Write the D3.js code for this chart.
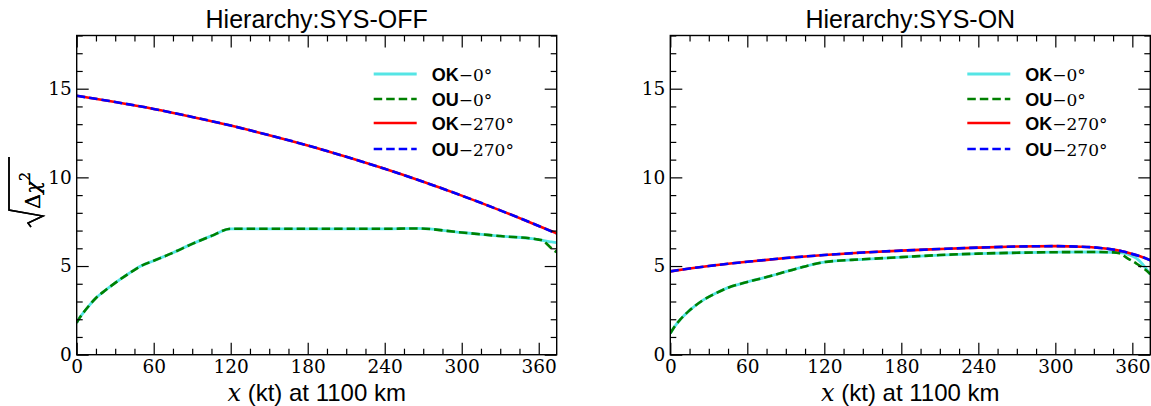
<!DOCTYPE html>
<html>
<head>
<meta charset="utf-8">
<script src="https://cdn.jsdelivr.net/npm/d3@7"></script>
<style>
  body { margin: 0; background: #fff; }
  svg { display: block; }
</style>
</head>
<body>
<div id="chart"></div>
<script>
// ---- data ----
const panelTitles = ['Hierarchy:SYS-OFF', 'Hierarchy:SYS-ON'];
const xMajorTicks = [0, 60, 120, 180, 240, 300, 360];
const yMajorTicks = [0, 5, 10, 15];
const xMax = 374;
const yMax = 18;

// SYS-OFF
const offX270 = [0, 30, 60, 90, 120, 150, 180, 210, 240, 270, 300, 330, 360, 374];
const offOK270 = [14.6, 14.25, 13.86, 13.41, 12.92, 12.38, 11.80, 11.16, 10.48, 9.75, 8.97, 8.14, 7.26, 6.85];
const offOU270 = [14.6, 14.25, 13.86, 13.41, 12.92, 12.38, 11.80, 11.16, 10.48, 9.75, 8.97, 8.14, 7.26, 6.83];
const offXOK0 = [0, 2, 5, 10, 15, 20, 30, 40, 50, 60, 75, 90, 105, 120, 150, 180, 210, 240, 265, 300, 330, 360, 364, 368, 371, 374];
const offOK0 = [1.8, 2.05, 2.35, 2.8, 3.2, 3.5, 4.05, 4.55, 5.0, 5.3, 5.75, 6.25, 6.7, 7.1, 7.1, 7.1, 7.1, 7.1, 7.12, 6.89, 6.69, 6.49, 6.43, 6.38, 6.35, 6.32];
const offXOU0 = [0, 2, 5, 10, 15, 20, 30, 40, 50, 60, 75, 90, 105, 120, 150, 180, 210, 240, 265, 300, 330, 360, 364, 367, 370, 372, 374];
const offOU0 = [1.8, 2.05, 2.35, 2.8, 3.2, 3.5, 4.05, 4.55, 5.0, 5.3, 5.75, 6.25, 6.7, 7.1, 7.1, 7.1, 7.1, 7.1, 7.12, 6.89, 6.69, 6.49, 6.4, 6.2, 6.0, 5.88, 5.78];

// SYS-ON
const onX270 = [0, 15, 30, 45, 60, 90, 120, 150, 180, 210, 240, 270, 300, 320, 335, 345, 352, 358, 366, 374];
const onOK270 = [4.70, 4.86, 5.0, 5.13, 5.24, 5.45, 5.62, 5.76, 5.87, 5.96, 6.04, 6.10, 6.12, 6.09, 6.02, 5.93, 5.83, 5.72, 5.55, 5.33];
const onOU270 = [4.70, 4.86, 5.0, 5.13, 5.24, 5.45, 5.62, 5.76, 5.87, 5.96, 6.04, 6.10, 6.12, 6.09, 6.02, 5.93, 5.83, 5.72, 5.55, 5.33];
const onXOK0 = [0, 3, 7.5, 15, 25, 35, 45, 60, 75, 90, 105, 120, 150, 180, 210, 240, 270, 300, 330, 345, 352, 358, 363, 368, 374];
const onOK0 = [1.2, 1.55, 1.96, 2.5, 3.05, 3.45, 3.78, 4.1, 4.38, 4.68, 4.98, 5.22, 5.38, 5.5, 5.62, 5.7, 5.75, 5.78, 5.79, 5.77, 5.74, 5.62, 5.44, 5.1, 4.52];
const onXOU0 = [0, 3, 7.5, 15, 25, 35, 45, 60, 75, 90, 105, 120, 150, 180, 210, 240, 270, 300, 330, 345, 350, 356, 363, 370, 374];
const onOU0 = [1.2, 1.55, 1.96, 2.5, 3.05, 3.45, 3.78, 4.1, 4.38, 4.68, 4.98, 5.22, 5.38, 5.5, 5.62, 5.7, 5.75, 5.78, 5.79, 5.77, 5.72, 5.45, 5.15, 4.8, 4.55];

const legendNames = [['OK', '\u22120\u00b0'], ['OU', '\u22120\u00b0'], ['OK', '\u2212270\u00b0'], ['OU', '\u2212270\u00b0']];

const zip = (xs, ys) => xs.map((x, i) => [x, ys[i]]);

const panels = [
  { left: 76.7, title: panelTitles[0], series: [zip(offXOK0, offOK0), zip(offXOU0, offOU0), zip(offX270, offOK270), zip(offX270, offOU270)] },
  { left: 670.3, title: panelTitles[1], series: [zip(onXOK0, onOK0), zip(onXOU0, onOU0), zip(onX270, onOK270), zip(onX270, onOU270)] }
];

// style for each series: OK-0, OU-0, OK-270, OU-270
const styles = [
  { color: '#55e5e5', width: 2.8, dash: null },
  { color: '#008000', width: 2.6, dash: '8.5,4' },
  { color: '#ff0000', width: 2.6, dash: null },
  { color: '#0000ff', width: 2.6, dash: '8.5,4' }
];

// ---- layout ----
const W = 1151, H = 406;
const plotW = 480, plotTop = 35.5, plotH = 319.2;
const serif = "'DejaVu Serif', 'Liberation Serif', serif";
const sans = "'Liberation Sans', Arial, sans-serif";

const svg = d3.select('#chart').append('svg')
  .attr('width', W).attr('height', H);

const x = d3.scaleLinear().domain([0, xMax]).range([0, plotW]);
const y = d3.scaleLinear().domain([0, yMax]).range([plotH, 0]);
const xMinor = d3.range(0, xMax + 1, 15).filter(v => v % 60 !== 0);
const yMinor = d3.range(0, yMax + 1, 1).filter(v => v % 5 !== 0);

panels.forEach(p => {
  const g = svg.append('g').attr('transform', `translate(${p.left},${plotTop})`);

  // clip for curves
  const clipId = 'clip' + Math.round(p.left);
  g.append('clipPath').attr('id', clipId)
    .append('rect').attr('width', plotW).attr('height', plotH);

  // lines
  const line = d3.line().x(d => x(d[0])).y(d => y(d[1])).curve(d3.curveMonotoneX);
  const lines = g.append('g').attr('clip-path', `url(#${clipId})`);
  p.series.forEach((s, i) => {
    const st = styles[i];
    lines.append('path')
      .attr('d', line(s))
      .attr('fill', 'none')
      .attr('stroke', st.color)
      .attr('stroke-width', st.width)
      .attr('stroke-dasharray', st.dash);
  });

  // axes: inward ticks on all four sides
  const major = 12, minor = 6;
  const styleAxis = sel => {
    sel.select('.domain').remove();
    sel.selectAll('line').attr('stroke', '#000').attr('stroke-width', 1.2);
  };
  const styleLabels = a => a.attr('font-family', null).attr('font-size', null)
    .selectAll('text').style('font-family', serif).style('font-size', '18.5px').attr('fill', '#000');

  g.append('g').attr('transform', `translate(0,${plotH})`)
    .call(d3.axisBottom(x).tickValues(xMajorTicks).tickSize(-major).tickPadding(5).tickFormat(d3.format('d')))
    .call(styleAxis)
    .call(styleLabels);
  g.append('g').attr('transform', `translate(0,${plotH})`)
    .call(d3.axisBottom(x).tickValues(xMinor).tickSize(-minor).tickFormat(''))
    .call(styleAxis);
  g.append('g')
    .call(d3.axisTop(x).tickValues(xMajorTicks).tickSize(-major).tickFormat(''))
    .call(styleAxis);
  g.append('g')
    .call(d3.axisTop(x).tickValues(xMinor).tickSize(-minor).tickFormat(''))
    .call(styleAxis);

  g.append('g')
    .call(d3.axisLeft(y).tickValues(yMajorTicks).tickSize(-major).tickPadding(5).tickFormat(d3.format('d')))
    .call(styleAxis)
    .call(styleLabels);
  g.append('g')
    .call(d3.axisLeft(y).tickValues(yMinor).tickSize(-minor).tickFormat(''))
    .call(styleAxis);
  g.append('g').attr('transform', `translate(${plotW},0)`)
    .call(d3.axisRight(y).tickValues(yMajorTicks).tickSize(-major).tickFormat(''))
    .call(styleAxis);
  g.append('g').attr('transform', `translate(${plotW},0)`)
    .call(d3.axisRight(y).tickValues(yMinor).tickSize(-minor).tickFormat(''))
    .call(styleAxis);

  // frame
  g.append('rect')
    .attr('width', plotW).attr('height', plotH)
    .attr('fill', 'none').attr('stroke', '#000').attr('stroke-width', 1.4);

  // title
  g.append('text')
    .attr('x', plotW / 2).attr('y', 28 - plotTop)
    .attr('text-anchor', 'middle')
    .style('font-family', sans).style('font-size', '25px')
    .text(p.title);

  // x label
  const xl = g.append('text')
    .attr('x', plotW / 2).attr('y', 401 - plotTop)
    .attr('text-anchor', 'middle')
    .style('font-family', sans).style('font-size', '24px');
  xl.append('tspan').style('font-family', serif).style('font-style', 'italic').text('x');
  xl.append('tspan').text(' (kt) at 1100 km');

  // y label: sqrt(Delta chi^2), rotated
  const yl = g.append('g').attr('transform', `translate(${40 - p.left},${195 - plotTop}) rotate(-90)`);
  const yt = yl.append('text').attr('x', -14).attr('y', 0)
    .style('font-family', serif).style('font-size', '21px');
  yt.append('tspan').text('\u0394');
  yt.append('tspan').style('font-style', 'italic').text('\u03c7');
  yt.append('tspan').style('font-size', '14px').attr('dy', -10).text('2');
  yl.append('path')
    .attr('d', 'M-32,-9 L-28,-12 L-21,3 L-15,-31 L38,-31')
    .attr('fill', 'none').attr('stroke', '#000').attr('stroke-width', 1.5)
    .attr('stroke-linejoin', 'miter');

  // legend
  const lg = g.append('g').attr('transform', `translate(297,0)`);
  legendNames.forEach((nm, i) => {
    const yy = [74, 99, 123, 149][i] - plotTop;
    const st = styles[i];
    lg.append('line')
      .attr('x1', 0).attr('x2', 43).attr('y1', yy).attr('y2', yy)
      .attr('stroke', st.color).attr('stroke-width', st.width)
      .attr('stroke-dasharray', st.dash);
    const t = lg.append('text').attr('x', 58).attr('y', yy + 6.5);
    t.append('tspan').style('font-family', sans).style('font-weight', 'bold').style('font-size', '18px').text(nm[0]);
    t.append('tspan').style('font-family', serif).style('font-size', '17px').text(nm[1]);
  });
});
</script>
</body>
</html>
